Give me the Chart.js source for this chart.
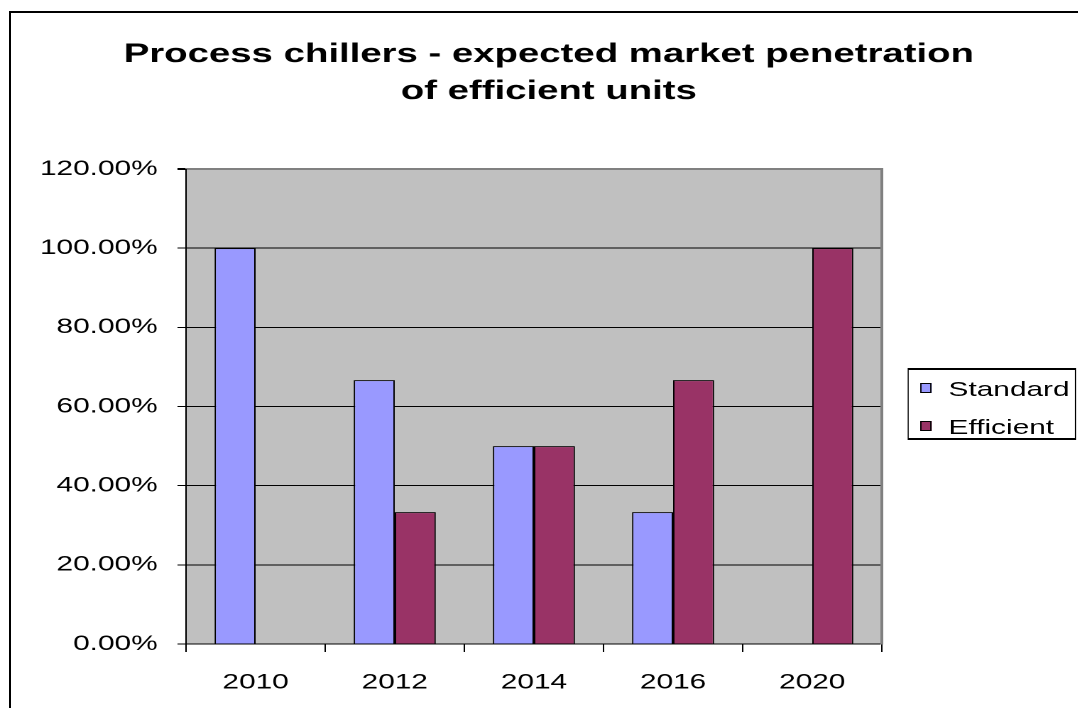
<!DOCTYPE html>
<html>

<head>
   <meta charset="UTF-8">
   <title>Process chillers</title>
   <script src="https://cdn.jsdelivr.net/npm/chart.js"></script>
   <style>
      body {
         margin: 0;
         background: #fff;
         width: 1078px;
         height: 708px;
         overflow: hidden;
         position: relative;
         font-family: "Liberation Sans", Arial, sans-serif;
      }

      #frame {
         position: absolute;
         left: 9px;
         top: 11px;
         width: 1100px;
         height: 720px;
         border: 2px solid #000;
      }

      /* the original picture is stretched sideways, so the whole chart is too */
      #stretch {
         position: absolute;
         left: 0;
         top: 0;
         width: 759px;
         height: 708px;
         transform: scaleX(1.42);
         transform-origin: 0 0;
      }

      #legendBox {
         position: absolute;
         left: 639px;
         top: 368px;
         width: 117px;
         height: 68px;
         border-style: solid;
         border-color: #000;
         border-width: 2px 1.4px;
         background: #fff;
      }

      .legendRow {
         position: absolute;
         left: 0;
         height: 38px;
         line-height: 38px;
         font-size: 21px;
         color: #000;
         white-space: nowrap;
      }

      .legendMark {
         position: absolute;
         left: 8px;
         top: 13px;
         width: 5.5px;
         height: 8px;
         border-style: solid;
         border-color: #000;
         border-width: 1.5px 1px;
      }

      .legendText {
         position: absolute;
         left: 28px;
      }
   </style>
</head>

<body>
   <div id="frame"></div>
   <div id="stretch">
      <canvas id="chart" width="759" height="708"></canvas>
      <div id="legendBox"></div>
   </div>

   <script>
      const years = ["2010", "2012", "2014", "2016", "2020"];
      const standard = [1, 0.6667, 0.5, 0.3333, 0];
      const efficient = [0, 0.3333, 0.5, 0.6667, 1];
      const seriesNames = ["Standard", "Efficient"];
      const seriesColors = ["#9999FF", "#993366"];
      const titleLines = ["Process chillers - expected market penetration", "of efficient units"];

      const fontFamily = "'Liberation Sans', Arial, sans-serif";

      // grey plot area behind the grid
      const plotBackground = {
         id: "plotBackground",
         beforeDraw(chart) {
            const { ctx, chartArea } = chart;
            ctx.save();
            ctx.fillStyle = "#C0C0C0";
            ctx.fillRect(chartArea.left, chartArea.top,
               chartArea.right - chartArea.left, chartArea.bottom - chartArea.top);
            ctx.restore();
         }
      };

      const isTop = v => Math.abs(v - 1.2) < 1e-6;

      const chart = new Chart(document.getElementById("chart"), {
         type: "bar",
         data: {
            labels: years,
            datasets: [
               {
                  label: seriesNames[0],
                  data: standard,
                  backgroundColor: seriesColors[0],
                  borderColor: "#000",
                  borderWidth: 1
               },
               {
                  label: seriesNames[1],
                  data: efficient,
                  backgroundColor: seriesColors[1],
                  borderColor: "#000",
                  borderWidth: 1
               }
            ]
         },
         options: {
            responsive: false,
            animation: false,
            devicePixelRatio: 2,
            layout: { padding: { left: 14, top: 0, right: 0, bottom: 0 } },
            datasets: {
               bar: { categoryPercentage: 0.59, barPercentage: 1 }
            },
            plugins: {
               legend: { display: false },
               tooltip: { enabled: false },
               title: {
                  display: true,
                  text: titleLines,
                  color: "#000",
                  font: { family: fontFamily, size: 27, weight: "bold", lineHeight: 1.37 },
                  padding: { top: 36, bottom: 59 }
               }
            },
            scales: {
               x: {
                  afterFit: s => { s.height = 64; },
                  grid: {
                     display: true,
                     drawOnChartArea: false,
                     offset: true,
                     tickLength: 8,
                     color: "#000"
                  },
                  border: { color: "#000", width: 1 },
                  ticks: {
                     color: "#000",
                     padding: 18,
                     font: { family: fontFamily, size: 21 }
                  }
               },
               y: {
                  min: 0,
                  max: 1.2,
                  afterFit: s => { s.width = 117; },
                  grid: {
                     color: c => c.tick && isTop(c.tick.value) ? "#808080" : "#000",
                     lineWidth: c => c.tick && isTop(c.tick.value) ? 2 : 1,
                     tickColor: "#000",
                     tickLength: 6
                  },
                  border: { color: "#000", width: 1 },
                  ticks: {
                     stepSize: 0.2,
                     color: "#000",
                     padding: 14,
                     font: { family: fontFamily, size: 21 },
                     callback: v => (v * 100).toFixed(2) + "%"
                  }
               },
               // right edge of the plot; also keeps room for the legend
               y2: {
                  position: "right",
                  min: 0,
                  max: 1.2,
                  afterFit: s => { s.width = 138; },
                  grid: { display: false },
                  ticks: { display: false },
                  border: { color: "#808080", width: 2 }
               }
            }
         },
         plugins: [plotBackground]
      });

      // legend built from the chart's own datasets
      const legendBox = document.getElementById("legendBox");
      chart.data.datasets.forEach((ds, i) => {
         const row = document.createElement("div");
         row.className = "legendRow";
         row.style.top = (i * 38) + "px";
         row.innerHTML = '<span class="legendMark" style="background:' + ds.backgroundColor +
            '"></span><span class="legendText">' + ds.label + "</span>";
         legendBox.appendChild(row);
      });
   </script>
</body>

</html>
